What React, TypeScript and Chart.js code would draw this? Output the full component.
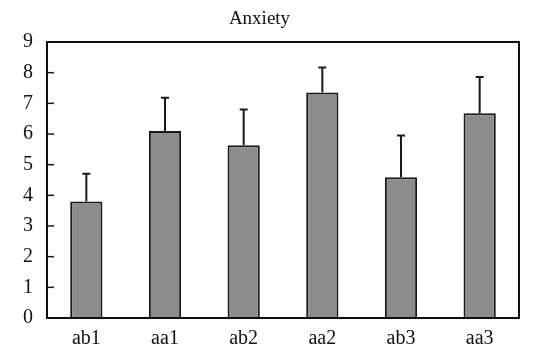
import React, { useEffect, useRef } from "react";
import { Chart, registerables } from "chart.js";

Chart.register(...registerables);

const categories = ["ab1", "aa1", "ab2", "aa2", "ab3", "aa3"];
const means = [3.8, 6.1, 5.63, 7.35, 4.59, 6.68];
const errorTops = [4.7, 7.18, 6.8, 8.17, 5.95, 7.86];
const yTicks = [0, 1, 2, 3, 4, 5, 6, 7, 8, 9];
const titleText = "Anxiety";

const FONT = '"Liberation Serif", "Times New Roman", serif';

const framePlugin = {
  id: "frameAndErrors",
  afterDatasetsDraw(chart: any) {
    const { ctx, chartArea, scales } = chart;
    const y = scales.y;
    ctx.save();
    ctx.strokeStyle = "#1a1a1a";
    ctx.lineWidth = 2;
    const meta = chart.getDatasetMeta(0);
    meta.data.forEach((bar: any, i: number) => {
      const cx = bar.x;
      const yTop = y.getPixelForValue(errorTops[i]);
      const yBar = y.getPixelForValue(means[i]);
      ctx.beginPath();
      ctx.moveTo(cx, yBar);
      ctx.lineTo(cx, yTop);
      ctx.moveTo(cx - 4, yTop);
      ctx.lineTo(cx + 4, yTop);
      ctx.stroke();
    });
    ctx.lineWidth = 1.5;
    yTicks.forEach((v) => {
      if (v === yTicks[0] || v === yTicks[yTicks.length - 1]) return;
      const py = y.getPixelForValue(v);
      ctx.beginPath();
      ctx.moveTo(chartArea.left, py);
      ctx.lineTo(chartArea.left + 7, py);
      ctx.stroke();
    });
    ctx.lineWidth = 2;
    ctx.strokeStyle = "#111";
    ctx.strokeRect(
      chartArea.left,
      chartArea.top,
      chartArea.right - chartArea.left,
      chartArea.bottom - chartArea.top
    );
    ctx.restore();
  },
};

export default function App() {
  const ref = useRef<HTMLCanvasElement | null>(null);
  useEffect(() => {
    if (!ref.current) return;
    const chart = new Chart(ref.current, {
      type: "bar",
      data: {
        labels: categories,
        datasets: [
          {
            data: means,
            backgroundColor: "#8c8c8c",
            borderColor: "#1a1a1a",
            borderWidth: 2,
            barPercentage: 0.41,
            categoryPercentage: 1,
          },
        ],
      },
      options: {
        responsive: false,
        animation: false,
        layout: { padding: { left: 0, right: 14, top: 0, bottom: 0 } },
        plugins: {
          legend: { display: false },
          tooltip: { enabled: false },
          title: {
            display: true,
            text: titleText,
            color: "#111",
            font: { family: FONT, size: 19, weight: "normal" },
            padding: { top: 8, bottom: 11.2 },
          },
        },
        scales: {
          x: {
            grid: { display: false, drawTicks: false },
            border: { display: false },
            ticks: {
              color: "#111",
              font: { family: FONT, size: 20 },
              padding: 9,
              maxRotation: 0,
            },
            afterFit(scale: any) {
              scale.height = 29;
            },
          },
          y: {
            min: 0,
            max: 9,
            grid: { display: false, drawTicks: false },
            border: { display: false },
            afterBuildTicks(scale: any) {
              scale.ticks = yTicks.map((v) => ({ value: v }));
            },
            ticks: {
              color: "#111",
              font: { family: FONT, size: 20 },
              padding: 14,
              stepSize: 1,
            },
            afterFit(scale: any) {
              scale.width = 47;
            },
          },
        },
      },
      plugins: [framePlugin],
    } as any);
    return () => chart.destroy();
  }, []);
  return (
    <div style={{ position: "fixed", left: 0, top: 0, width: 533, height: 347, background: "#fff" }}>
      <canvas ref={ref} width={533} height={347} style={{ display: "block" }} />
    </div>
  );
}
